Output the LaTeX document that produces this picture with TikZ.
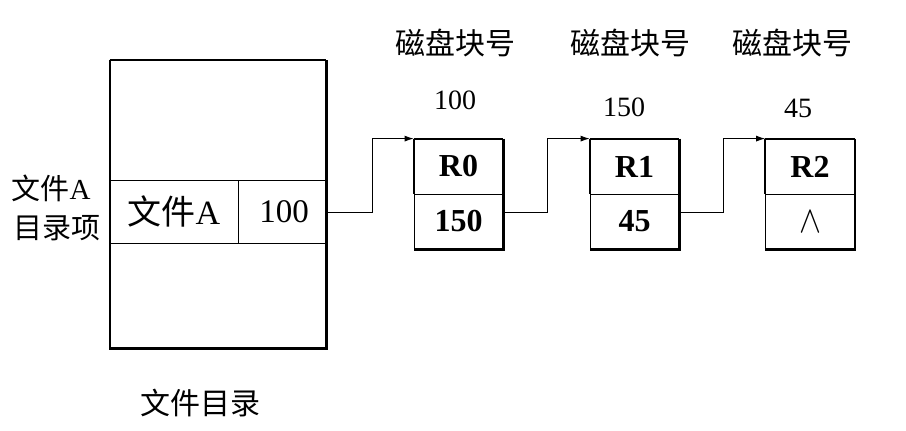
\documentclass[tikz,border=0pt]{standalone}
\usepackage{graphicx}
\usepackage{fontspec}
\setmainfont{Liberation Serif}
\newfontfamily\cjk{Noto Sans CJK SC}
\usetikzlibrary{arrows.meta}
\tikzset{
  thinline/.style={line width=0.8pt},
  thickline/.style={line width=2.2pt},
  cell/.style={draw, thinline, inner sep=0pt, anchor=center},
  blk/.style={cell, minimum width=89pt, minimum height=55pt, font=\fontsize{32}{32}\selectfont\bfseries},
  lbl/.style={inner sep=0pt, font=\fontsize{29}{29}\selectfont\cjk},
  num/.style={inner sep=0pt, font=\fontsize{28}{28}\selectfont},
  link/.style={thinline, -{Latex[length=9pt,width=6pt]}}
}
\begin{document}
\begin{tikzpicture}[x=1pt,y=-1pt]
\useasboundingbox (0,0) rectangle (906,431);
% directory box
\node[draw, thinline, minimum width=216pt, minimum height=288pt, inner sep=0pt] (dir) at (218,204) {};
\draw[thickline] (dir.north west) -- (dir.south west) -- (dir.south east) -- (dir.north east);
\draw[line width=1.3pt] (dir.north west) -- (dir.north east);
\node[cell, minimum width=128pt, minimum height=63pt, font=\fontsize{34}{34}\selectfont] (fname) at (174,211.5) {{\cjk 文件}A};
\node[cell, minimum width=88pt, minimum height=63pt, font=\fontsize{33}{33}\selectfont] (ptr) at (282,211.5) {\hspace{4pt}100};
% left labels
\node[lbl] (la) at (51,188) {文件\fontspec{Liberation Serif}A};
\node[lbl] (lb) at (57,228) {目录项};
\node[lbl, font=\fontsize{30}{30}\selectfont\cjk] (dirname) at (200,403) {文件目录};
% blocks
\node[blk] (r0t) at (458.5,166.5) {R0};
\node[blk] (r0b) at (458.5,221.5) {150};
\node[blk] (r1t) at (634.5,166.5) {R1};
\node[blk] (r1b) at (634.5,221.5) {45};
\node[blk] (r2t) at (810,166.5) {R2};
\node[blk, font=\normalsize] (r2b) at (810,221.5) {\scalebox{3.3}[3.8]{$\wedge$}};
\foreach \t/\b in {r0t/r0b, r1t/r1b, r2t/r2b}{
  \draw[thickline] (\t.north west) -- (\t.south west);
  \draw[thickline] (\t.north east) -- (\b.south east) -- (\b.south west);
  \draw[line width=1.3pt] (\t.north west) -- (\t.north east);
}
% labels above
\node[lbl, font=\fontsize{30}{30}\selectfont\cjk] (h0) at (455,43) {磁盘块号};
\node[lbl, font=\fontsize{30}{30}\selectfont\cjk] (h1) at (630,43) {磁盘块号};
\node[lbl, font=\fontsize{30}{30}\selectfont\cjk] (h2) at (792,43) {磁盘块号};
\node[num] (n0) at (455,100) {100};
\node[num] (n1) at (624,107) {150};
\node[num] (n2) at (798,108) {45};
% links
\draw[link] ([yshift=-1pt]ptr.east) -- ++(46,0) |- (r0t.north west);
\draw[link] ([yshift=9pt]r0b.east) -- ++(44,0) |- (r1t.north west);
\draw[link] ([yshift=9pt]r1b.east) -- ++(44,0) |- (r2t.north west);
\end{tikzpicture}
\end{document}
